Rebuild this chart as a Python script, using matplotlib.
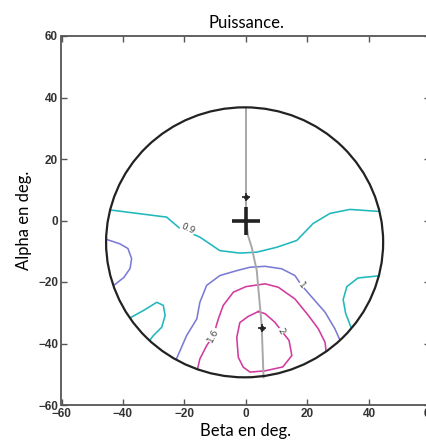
import numpy as np
import matplotlib
matplotlib.use("Agg")
import matplotlib.pyplot as plt
from matplotlib.patches import Ellipse

# contour lines (deg)
cyan_top_x = [-47, -43.2, -34.5, -25.8, -21.5, -15, -8.5, -2, 3.5, 10, 16.5, 21.8, 27.3, 33.8, 42.5, 47]
cyan_top_y = [3.5, 3.3, 2.2, 1.1, -2.6, -5.4, -9.8, -10.6, -10.3, -8.7, -6.5, -1, 2.3, 3.6, 3.0, 3.0]

cyan_left_x = [-40, -37.2, -33.4, -29, -26.9, -26.3, -27.4, -30.1, -31.8, -33]
cyan_left_y = [-32.5, -31.4, -29.3, -26.6, -27.6, -30.9, -34.7, -37.4, -39.6, -42]

cyan_right_x = [47, 43.1, 36.4, 32.8, 31.6, 32.4, 34.4, 35.5]
cyan_right_y = [-17.8, -18, -18.7, -21.5, -25.7, -30.2, -35.4, -38.5]

blue_left_x = [-48, -45.2, -41, -38.4, -37.2, -37.7, -39.7, -42.6, -45]
blue_left_y = [-5.5, -6.2, -7.6, -9.1, -12.4, -15.6, -18.5, -20.8, -22.5]

blue_main_x = [-24.5, -23.1, -19.3, -16, -15, -12.8, -8.5, -3, 1.3, 6.2, 11.6, 15.9, 18.1, 21.4, 25.7, 28.9, 31.1, 33]
blue_main_y = [-50, -46.1, -37.4, -32, -26.6, -21.1, -17.9, -16.3, -15.2, -14.9, -15.7, -17.9, -21.1, -24.9, -29.8, -35.2, -40.1, -43]

mag_outer_x = [-16.5, -16, -15, -12.8, -10.6, -9, -7.4, -4.1, 0, 6.2, 10.5, 15.9, 20.3, 23.5, 25.7, 26.2, 26.5]
mag_outer_y = [-52, -49.3, -45, -40.7, -37.4, -32, -27.6, -23.3, -21.5, -20.6, -21.7, -25.5, -30.9, -35.2, -39.6, -43.9, -47]

mag_inner_x = [4, 6.2, 9.4, 11.7, 14, 14.9, 12, 6.2, 1.3, -0.9, -2.5, -3, -2, 0.7, 4]
mag_inner_y = [-29.6, -30.3, -33.1, -36.1, -39, -43.9, -47.6, -48.9, -49.3, -47.7, -44.5, -38, -33.2, -31.2, -29.6]

# contour labels
lab_text = ["0.9", "1", "1.6", "2"]
lab_x = [-18.9, 18.1, -10.6, 11.2]
lab_y = [-2.6, -21.1, -37.4, -36.0]
lab_rot = [-25, -50, 62, -60]

# scan path and points
path_x = [0, 0, 0.65, 1.85, 3.5, 5.1, 5.7]
path_y = [36.7, 0, -4.9, -8.7, -16.3, -34.1, -51]
pts_x = [0, 5.2]
pts_y = [7.8, -34.8]

fig = plt.figure(figsize=(4.27, 4.46), dpi=100)
ax = fig.add_axes([61.5 / 427, 41 / 446, 369 / 427, 369 / 446])

circle = Ellipse((-0.45, -7.1), 90.1, 87.8, fill=False, ec="#222222", lw=1.6, zorder=5)
ax.add_patch(circle)

cyan = "#1fb8bc"
blue = "#7b7bd6"
mag = "#d23a9e"
lines = [
    (cyan_top_x, cyan_top_y, cyan),
    (cyan_left_x, cyan_left_y, cyan),
    (cyan_right_x, cyan_right_y, cyan),
    (blue_left_x, blue_left_y, blue),
    (blue_main_x, blue_main_y, blue),
    (mag_outer_x, mag_outer_y, mag),
    (mag_inner_x, mag_inner_y, mag),
]
for xs, ys, c in lines:
    ln, = ax.plot(xs, ys, color=c, lw=1.15, zorder=2, solid_joinstyle="round")
    ln.set_clip_path(circle)

for t, x, y, r in zip(lab_text, lab_x, lab_y, lab_rot):
    ax.text(x, y, t, fontsize=6.5, color="#444444", rotation=r, ha="center", va="center",
            bbox=dict(fc="white", ec="none", pad=0.3), zorder=3)

ax.plot(path_x, path_y, color="#a8a8a8", lw=1.4, zorder=4)
ax.plot(pts_x, pts_y, "+", color="#222222", ms=6, mew=1.2, zorder=6)
ax.plot(pts_x, pts_y, "o", color="#222222", ms=2.5, zorder=6)
ax.plot([0], [0], "+", color="#222222", ms=20, mew=2.6, zorder=6)

ax.set_xlim(-60, 60)
ax.set_ylim(-60, 60)
ax.set_xticks(np.arange(-60, 61, 20))
ax.set_yticks(np.arange(-60, 61, 20))
ax.tick_params(direction="in", length=4, width=1, top=True, right=True,
               labelsize=8.5, labelcolor="#333333", color="#555555", pad=2.5)
for lab in ax.get_xticklabels() + ax.get_yticklabels():
    lab.set_family(["Liberation Sans Narrow", "Liberation Sans"])
    lab.set_weight("bold")
for s in ax.spines.values():
    s.set_color("#555555")
    s.set_linewidth(1.3)

ax.set_title("Puissance.", fontsize=12, family="Lato", pad=6)
ax.set_xlabel("Beta en deg.", fontsize=12, family="Lato", labelpad=2)
ax.set_ylabel("Alpha en deg.", fontsize=12, family="Lato", labelpad=4)

fig.savefig("out.png", dpi=100)
